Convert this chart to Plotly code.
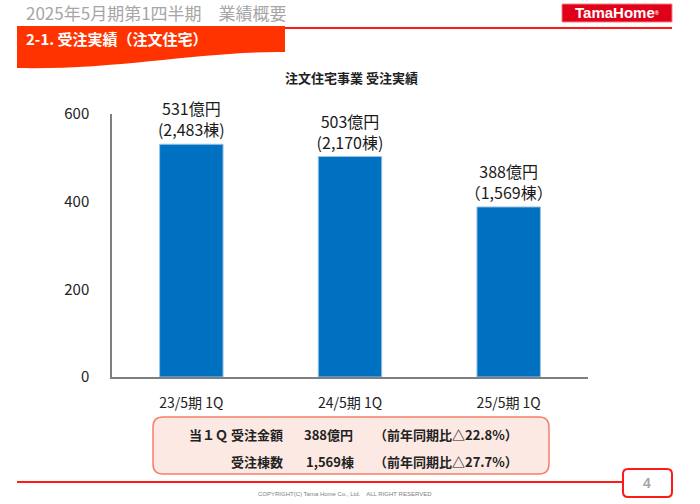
import plotly.graph_objects as go

# ---- data ----
categories = ["23/5期 1Q", "24/5期 1Q", "25/5期 1Q"]
amounts = [531, 503, 388]          # 億円
unit_counts = [2483, 2170, 1569]   # 棟
paren_open = ["(", "(", "（"]
paren_close = [")", ")", "）"]
y_ticks = [0, 200, 400, 600]

labels = [f"{a}億円<br>{po}{u:,}棟{pc}" for a, u, po, pc in
          zip(amounts, unit_counts, paren_open, paren_close)]

FONT = "Noto Sans CJK JP"
L, R, T, B = 112, 112, 114, 127
WW, HH = 700, 504
PW, PH = WW - L - R, HH - T - B


def px(x):
    return (x - L) / PW


def py(y):
    return (HH - B - y) / PH


fig = go.Figure()
fig.add_trace(go.Bar(
    x=categories, y=amounts, width=0.4,
    marker=dict(color="#0070C0", line=dict(color="#9DC3E6", width=1)),
    text=labels, textposition="outside", cliponaxis=False,
    constraintext="none",
    textfont=dict(family=FONT, size=16, color="#1A1A1A"),
    hoverinfo="skip",
))

shapes = []
annotations = []

# top red line
shapes.append(dict(type="line", xref="paper", yref="paper",
                   x0=px(17), x1=px(672), y0=py(28), y1=py(28),
                   line=dict(color="#FF1A1A", width=2)))
# banner
path = (f"M {px(17)},{py(26)} L {px(285)},{py(26)} L {px(285)},{py(52)} "
        f"C {px(200)},{py(51)} {px(120)},{py(70)} {px(17)},{py(68)} Z")
shapes.append(dict(type="path", xref="paper", yref="paper", path=path,
                   fillcolor="#FF3300", line=dict(width=0)))
# logo
shapes.append(dict(type="rect", xref="paper", yref="paper",
                   x0=px(562), x1=px(672), y0=py(4), y1=py(22),
                   fillcolor="#E0001A", line=dict(color="#F08080", width=1)))


def rounded_rect(x0, y0, x1, y1, r):
    return (f"M {px(x0 + r)},{py(y0)} L {px(x1 - r)},{py(y0)} "
            f"Q {px(x1)},{py(y0)} {px(x1)},{py(y0 + r)} "
            f"L {px(x1)},{py(y1 - r)} Q {px(x1)},{py(y1)} {px(x1 - r)},{py(y1)} "
            f"L {px(x0 + r)},{py(y1)} Q {px(x0)},{py(y1)} {px(x0)},{py(y1 - r)} "
            f"L {px(x0)},{py(y0 + r)} Q {px(x0)},{py(y0)} {px(x0 + r)},{py(y0)} Z")


# summary box
shapes.append(dict(type="path", xref="paper", yref="paper",
                   path=rounded_rect(153, 417, 549, 474, 10),
                   fillcolor="#FDE9E3", line=dict(color="#F4806A", width=1.5)))
# bottom red line
shapes.append(dict(type="line", xref="paper", yref="paper",
                   x0=px(17), x1=px(623), y0=py(482), y1=py(482),
                   line=dict(color="#FF1A1A", width=2)))
# page box
shapes.append(dict(type="path", xref="paper", yref="paper",
                   path=rounded_rect(623, 469, 672, 497, 5),
                   fillcolor="white", line=dict(color="#FF1A1A", width=2)))


def ann(text, x, y, size, color="#222222", bold=False, xanchor="left", family=FONT):
    if bold:
        text = f"<b>{text}</b>"
    annotations.append(dict(text=text, x=px(x), y=py(y), xref="paper", yref="paper",
                            xanchor=xanchor, yanchor="middle", showarrow=False,
                            font=dict(family=family, size=size, color=color)))


ann("2025年5月期第1四半期　業績概要", 24, 12, 17, color="#A6A6A6")
ann("2-1. 受注実績（注文住宅）", 24, 39, 15, color="white", bold=True)
ann("TamaHome<span style='font-size:8px'><sup>®</sup></span>", 617, 13, 15,
    color="white", bold=True, xanchor="center", family="Liberation Sans")
ann("注文住宅事業 受注実績", 351, 78, 13, bold=True, xanchor="center")

ann("当１Ｑ 受注金額", 285, 435, 13, bold=True, xanchor="right")
ann("388億円", 302, 435, 13, bold=True)
ann("（前年同期比△22.8%）", 372, 435, 13, bold=True)
ann("受注棟数", 285, 461, 13, bold=True, xanchor="right")
ann("1,569棟", 304, 461, 13, bold=True)
ann("（前年同期比△27.7%）", 372, 461, 13, bold=True)

ann("4", 647, 483, 14, color="#A6A6A6", bold=True, xanchor="center",
    family="Liberation Sans")
ann("COPYRIGHT(C) Tama Home Co., Ltd.　ALL RIGHT RESERVED", 345, 494, 6,
    color="#808080", xanchor="center", family="Liberation Sans")

fig.update_layout(
    width=WW, height=HH,
    margin=dict(l=L, r=R, t=T, b=B, autoexpand=False),
    paper_bgcolor="white", plot_bgcolor="white",
    showlegend=False,
    shapes=shapes, annotations=annotations,
    font=dict(family=FONT, color="#222222"),
    xaxis=dict(showline=True, linecolor="#7F7F7F", linewidth=1.5,
               ticks="", showgrid=False, ticklabelstandoff=12,
               tickfont=dict(family=FONT, size=14, color="#222222"),
               fixedrange=True),
    yaxis=dict(range=[0, 600], tickvals=y_ticks, showline=True,
               linecolor="#7F7F7F", linewidth=1.5, ticks="", showgrid=False,
               zeroline=False, ticklabelstandoff=18,
               tickfont=dict(family=FONT, size=15, color="#222222"),
               fixedrange=True),
)

fig.write_html("out.html")
